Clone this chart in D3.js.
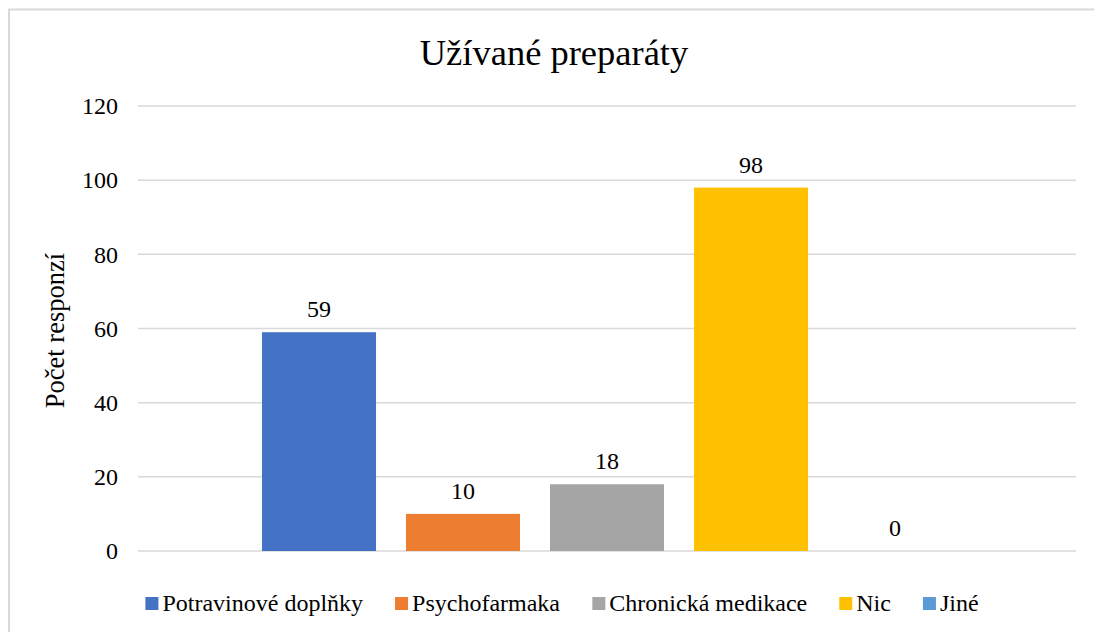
<!DOCTYPE html>
<html>
<head>
<meta charset="utf-8">
<title>Užívané preparáty</title>
<style>
  body { margin: 0; background: #fff; }
  svg, svg text { font-family: "Liberation Serif", "Times New Roman", Tinos, "DejaVu Serif", "Noto Serif", serif; }
  svg text { fill: #000; }
</style>
</head>
<body>
<svg id="chart" width="1094" height="632"></svg>
<script src="https://d3js.org/d3.v7.min.js"></script>
<script>
// data
var series = ["Potravinové doplňky", "Psychofarmaka", "Chronická medikace", "Nic", "Jiné"];
var values = [59, 10, 18, 98, 0];
var colors = ["#4472C4", "#ED7D31", "#A5A5A5", "#FFC000", "#5B9BD5"];
var yTicks = [0, 20, 40, 60, 80, 100, 120];

var serif = "'Liberation Serif', 'Times New Roman', Tinos, 'DejaVu Serif', 'Noto Serif', serif";
var svg = d3.select("#chart");

// chart area border (runs off the right / bottom of the picture)
svg.append("rect")
  .attr("x", 9).attr("y", 9.5)
  .attr("width", 1110).attr("height", 640)
  .attr("fill", "none")
  .attr("stroke", "#d9d9d9")
  .attr("stroke-width", 2);

// plot area
var plot = {left: 138, right: 1076, top: 106, bottom: 551};

var y = d3.scaleLinear().domain([0, 120]).range([plot.bottom, plot.top]);

// one category, five series side by side
var groupPad = 109;
var x = d3.scaleBand()
  .domain(series)
  .range([plot.left + groupPad, plot.right - groupPad])
  .paddingInner(0.208)
  .paddingOuter(0.104);

// gridlines
svg.append("g").selectAll("line")
  .data(yTicks)
  .enter().append("line")
  .attr("x1", plot.left).attr("x2", plot.right)
  .attr("y1", function(d) { return y(d); })
  .attr("y2", function(d) { return y(d); })
  .attr("stroke", "#d9d9d9")
  .attr("stroke-width", 1.5);

// y axis labels
var yAxis = svg.append("g")
  .attr("transform", "translate(" + (plot.left - 8) + ",0)")
  .call(d3.axisLeft(y).tickValues(yTicks).tickSize(0).tickPadding(12));
yAxis.attr("font-family", serif).attr("font-size", 24);
yAxis.select(".domain").remove();
yAxis.selectAll("text")
  .style("font-family", serif)
  .style("font-size", "24px")
  .attr("fill", "#000");

// bars
svg.append("g").selectAll("rect")
  .data(values)
  .enter().append("rect")
  .attr("x", function(d, i) { return x(series[i]); })
  .attr("y", function(d) { return y(d); })
  .attr("width", x.bandwidth())
  .attr("height", function(d) { return y(0) - y(d); })
  .attr("fill", function(d, i) { return colors[i]; });

// data labels
svg.append("g").selectAll("text")
  .data(values)
  .enter().append("text")
  .attr("x", function(d, i) { return x(series[i]) + x.bandwidth() / 2; })
  .attr("y", function(d) { return y(d) - 15; })
  .attr("text-anchor", "middle")
  .style("font-size", "24px")
  .text(function(d) { return d; });

// title
svg.append("text")
  .attr("x", 554).attr("y", 65)
  .attr("text-anchor", "middle")
  .style("font-size", "36.5px")
  .text("Užívané preparáty");

// y axis title
svg.append("text")
  .attr("transform", "translate(64," + (((plot.top + plot.bottom) / 2) + 2) + ") rotate(-90)")
  .attr("text-anchor", "middle")
  .style("font-size", "26.5px")
  .text("Počet responzí");

// legend
var legend = svg.append("g");
var items = legend.selectAll("g")
  .data(series)
  .enter().append("g");
items.append("rect")
  .attr("width", 13).attr("height", 13)
  .attr("y", 597)
  .attr("fill", function(d, i) { return colors[i]; });
items.append("text")
  .attr("x", 17).attr("y", 611)
  .style("font-size", "24px")
  .text(function(d) { return d; });

var gap = 32, pos = 0, offs = [];
items.each(function() {
  offs.push(pos);
  pos += this.getBBox().width + gap;
});
var total = pos - gap;
var start = 562 - total / 2;
items.attr("transform", function(d, i) { return "translate(" + (start + offs[i]) + ",0)"; });
</script>
</body>
</html>
